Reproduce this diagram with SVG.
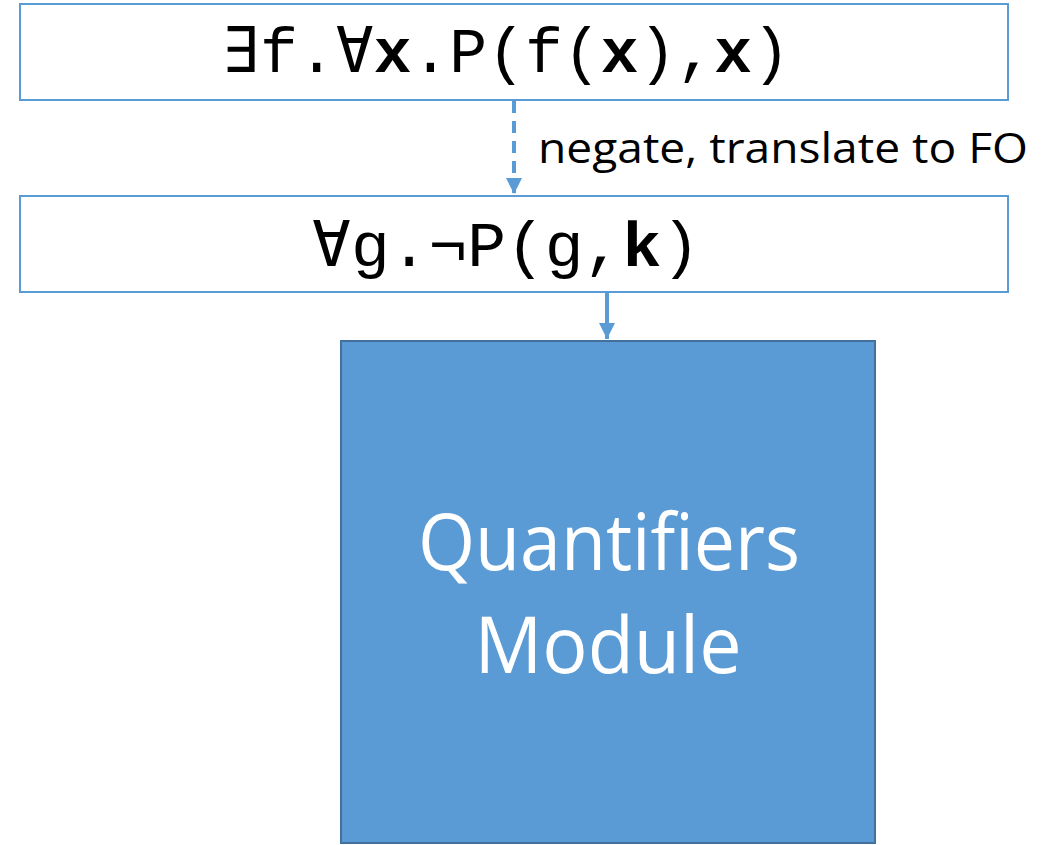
<svg xmlns="http://www.w3.org/2000/svg" width="1058" height="845" viewBox="0 0 1058 845">
<style>
.box{fill:#fff;stroke:#5B9BD5;stroke-width:2}
.mono{font-family:"Liberation Mono","DejaVu Sans Mono",monospace;font-size:63px;fill:#000}
.b{font-weight:bold}
.lbl{font-family:"Open Sans","Liberation Sans",sans-serif;font-size:42px;fill:#000}
.big{font-family:"Open Sans","Liberation Sans",sans-serif;font-size:78px;fill:#fff;text-anchor:middle}
.conn{stroke:#5B9BD5;stroke-width:4;fill:none}
</style>
<defs>
<marker id="ah" viewBox="0 0 10 10" refX="10" refY="5" markerWidth="4" markerHeight="4" markerUnits="strokeWidth" orient="auto">
<path d="M0,0 L10,5 L0,10 z" fill="#5B9BD5"/>
</marker>
</defs>
<rect width="1058" height="845" fill="#fff"/>
<g id="n1">
<rect class="box" x="20" y="4" width="988" height="96"/>
<text class="mono" x="222" y="72" textLength="568" lengthAdjust="spacingAndGlyphs">∃f.∀<tspan class="b">x</tspan>.P(f(<tspan class="b">x</tspan>),<tspan class="b">x</tspan>)</text>
</g>
<g id="n2">
<rect class="box" x="20" y="196" width="988" height="96"/>
<text class="mono" x="312" y="266" textLength="388" lengthAdjust="spacingAndGlyphs">∀g.¬P(g,<tspan class="b">k</tspan>)</text>
</g>
<g id="n3">
<rect x="341" y="341" width="534" height="502" fill="#5B9BD5" stroke="#41719C" stroke-width="2"/>
<text class="big" x="609" y="570" textLength="382" lengthAdjust="spacingAndGlyphs">Quantifiers</text>
<text class="big" x="608" y="673" textLength="267" lengthAdjust="spacingAndGlyphs">Module</text>
</g>
<g id="connectors">
<line class="conn" x1="514" y1="101" x2="514" y2="194" stroke-dasharray="12,8" marker-end="url(#ah)"/>
<line class="conn" x1="607" y1="293" x2="607" y2="339" marker-end="url(#ah)"/>
<text class="lbl" x="538" y="163" textLength="490" lengthAdjust="spacingAndGlyphs">negate, translate to FO</text>
</g>
</svg>
